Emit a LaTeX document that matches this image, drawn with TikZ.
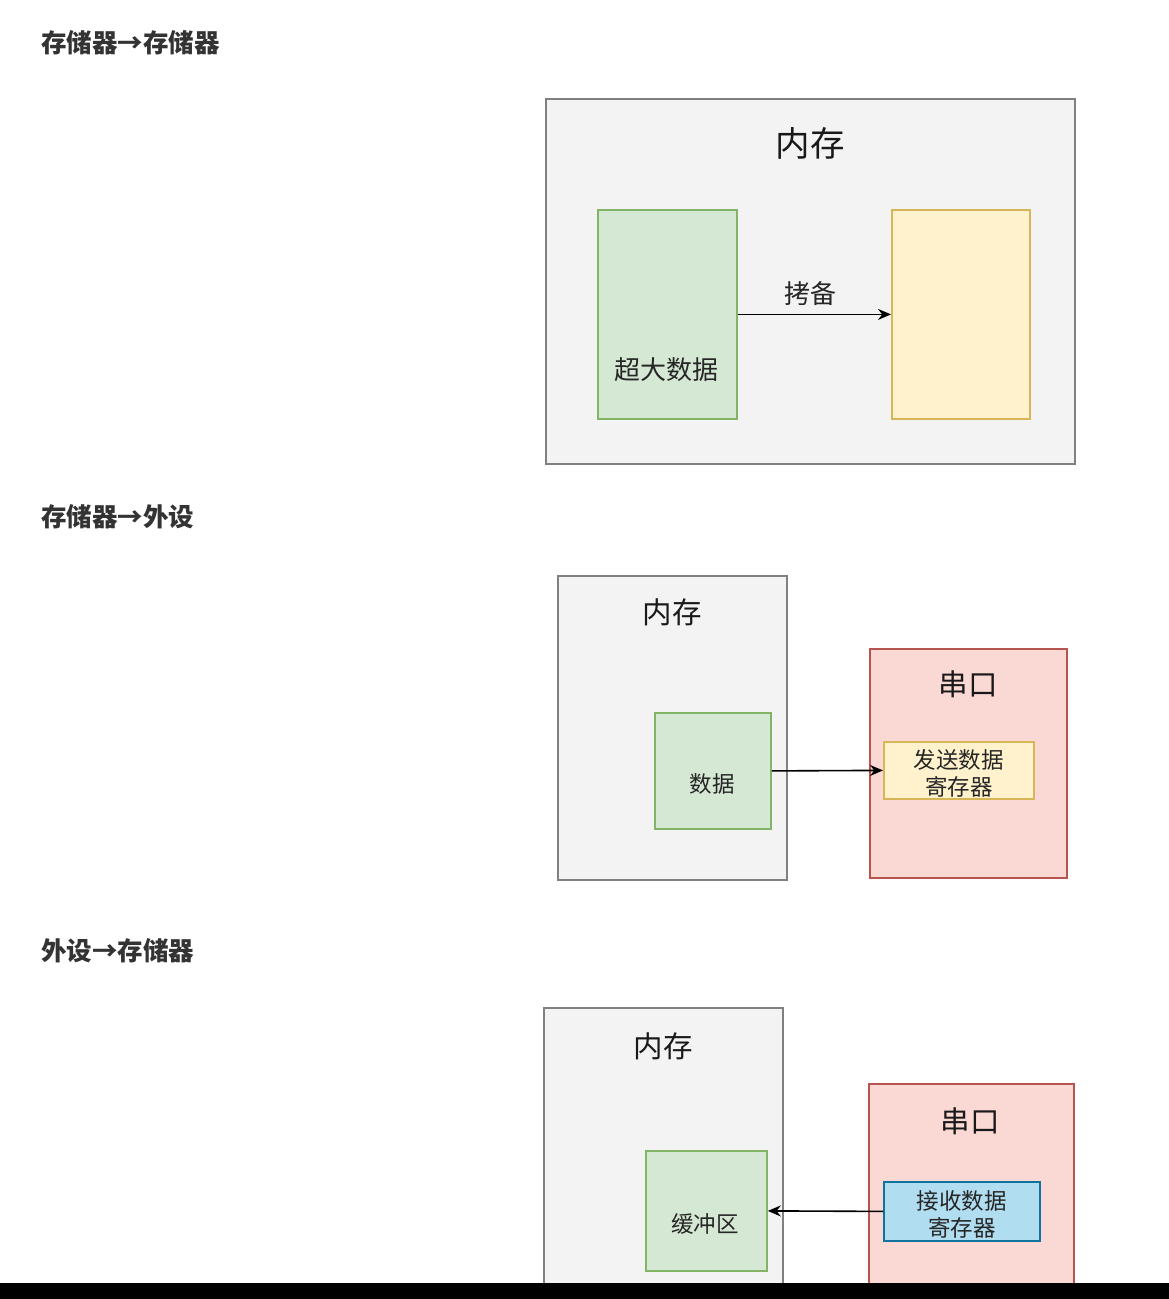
\documentclass[tikz,border=0pt]{standalone}
\usepackage{fontspec}
\setmainfont{Noto Sans CJK SC}
\definecolor{HeadGray}{HTML}{333333}
\definecolor{MemFill}{HTML}{F4F3F4}
\definecolor{MemLine}{HTML}{808080}
\definecolor{DataFill}{HTML}{D5E8D4}
\definecolor{DataLine}{HTML}{82B366}
\definecolor{RegFill}{HTML}{FFF2CC}
\definecolor{RegLine}{HTML}{D6B656}
\definecolor{PortFill}{HTML}{FAD9D5}
\definecolor{PortLine}{HTML}{B85450}
\definecolor{RecvFill}{HTML}{B1DDF0}
\definecolor{RecvLine}{HTML}{10739E}
\usetikzlibrary{arrows.meta, positioning}

\begin{document}
\begin{tikzpicture}[x=1pt, y=-1pt,
      heading/.style={font=\fontsize{25.5}{30}\selectfont\bfseries, text=HeadGray, anchor=west, inner sep=0pt},
      box/.style={anchor=north west, inner sep=0pt, line width=1.8pt},
      memory/.style={box, draw=MemLine, fill=MemFill},
      databox/.style={box, draw=DataLine, fill=DataFill},
      regbox/.style={box, draw=RegLine, fill=RegFill},
      portbox/.style={box, draw=PortLine, fill=PortFill},
      recvbox/.style={box, draw=RecvLine, fill=RecvFill},
      bigtitle/.style={font=\fontsize{34.5}{40}\selectfont, text=black!90, inner sep=0pt},
      midtitle/.style={font=\fontsize{29.5}{34}\selectfont, text=black!90, inner sep=0pt},
      txt/.style={font=\fontsize{22.5}{27}\selectfont, text=black!85, inner sep=0pt, align=center},
      flow/.style={-{Stealth[length=13pt, width=11pt]}, line width=1.6pt}]

      % Page
      \useasboundingbox (0,0) rectangle (1169,1299);
      \fill[white] (0,0) rectangle (1169,1299);

      % Memory to memory
      \node[heading] (h1) at (41,43) {存储器→存储器};
      \node[memory, minimum width=529, minimum height=365] (mem1) at (545,98) {};
      \node[bigtitle] (mem1title) at (810,143) {内存};
      \node[databox, minimum width=139, minimum height=209] (big) at (597,209) {};
      \node[txt, font=\fontsize{26}{30}\selectfont] (bigtext) at (666,370) {超大数据};
      \node[regbox, minimum width=138, minimum height=209] (dst) at (891,209) {};
      \draw[flow] (big.east) -- (dst.west)
            node[midway, above=8pt, xshift=-4pt, font=\fontsize{26}{30}\selectfont, text=black!85, inner sep=0pt] (copy) {拷备};

      % Memory to device
      \node[heading] (h2) at (41,517) {存储器→外设};
      \node[memory, minimum width=229, minimum height=304] (mem2) at (557,575) {};
      \node[midtitle] (mem2title) at (672,612) {内存};
      \node[databox, minimum width=116, minimum height=116] (data) at (654,712) {};
      \node[txt] (datatext) at (712,784) {数据};
      \node[portbox, minimum width=197, minimum height=229] (port2) at (869,648) {};
      \node[midtitle] (port2title) at (968,684) {串口};
      \node[regbox, minimum width=150, minimum height=57] (sendreg) at (883,741) {};
      \node[txt, yshift=-3pt] (sendtext) at (sendreg.center) {发送数据\\寄存器};
      \draw[flow] (data.east) -- (sendreg.west);

      % Device to memory
      \node[heading] (h3) at (41,951) {外设→存储器};
      \node[memory, minimum width=239, minimum height=290] (mem3) at (543,1007) {};
      \node[midtitle] (mem3title) at (663,1046) {内存};
      \node[databox, minimum width=121, minimum height=120] (buf) at (645,1150) {};
      \node[txt] (buftext) at (705,1224) {缓冲区};
      \node[portbox, minimum width=205, minimum height=214] (port3) at (868,1083) {};
      \node[midtitle] (port3title) at (970,1121) {串口};
      \node[recvbox, minimum width=156, minimum height=59] (recvreg) at (883,1181) {};
      \node[txt, yshift=-3pt] (recvtext) at (recvreg.center) {接收数据\\寄存器};
      \draw[flow] (recvreg.west) -- (buf.east);

      % Black strip at the bottom
      \fill[black] (0,1283) rectangle (1169,1299);
\end{tikzpicture}
\end{document}
